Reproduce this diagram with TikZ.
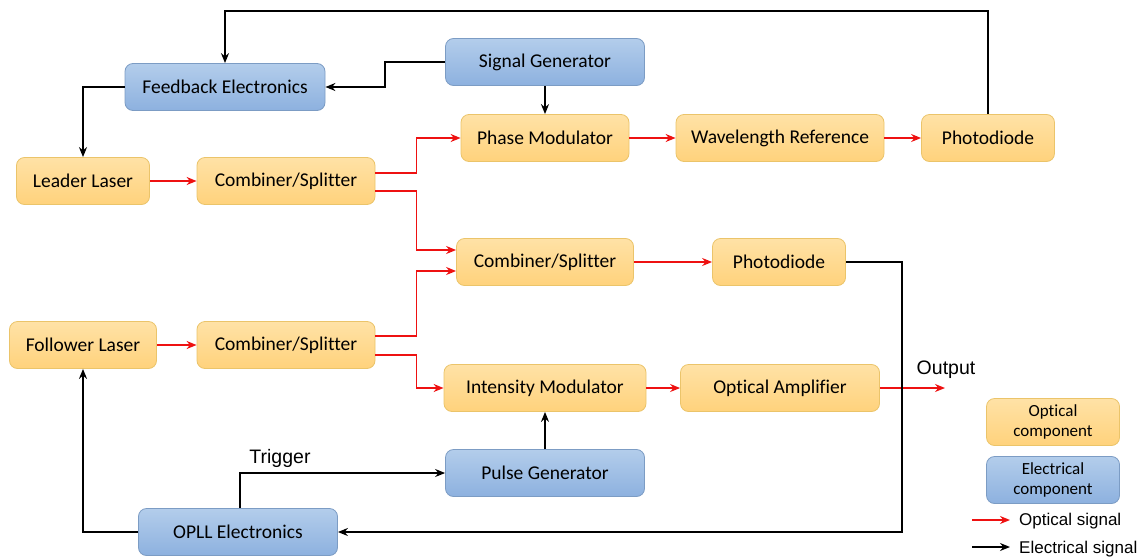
\documentclass[tikz,border=0pt]{standalone}
\usepackage{fontspec}
\setmainfont{Carlito}[Ligatures=NoCommon]
\newfontfamily\arialf{Liberation Sans}
\usetikzlibrary{arrows.meta,calc}
\definecolor{optTop}{HTML}{FFE2A6}
\definecolor{optBot}{HTML}{FFD27C}
\definecolor{optBd}{HTML}{EBC46A}
\definecolor{eleTop}{HTML}{B3CDEB}
\definecolor{eleBot}{HTML}{8DB1DF}
\definecolor{eleBd}{HTML}{7C9CC4}
\definecolor{sigred}{HTML}{EE1111}
\tikzset{
  box/.style={rounded corners=8pt, line width=0.8pt, minimum height=47pt, font=\fontsize{19.5}{22}\selectfont, inner sep=2pt},
  opt/.style={box, draw=optBd, top color=optTop, bottom color=optBot},
  ele/.style={box, draw=eleBd, top color=eleTop, bottom color=eleBot},
  oarr/.style={draw=sigred, line width=1.4pt, -{Stealth[length=10pt,width=8pt]}},
  earr/.style={draw=black, line width=1.4pt, -{Stealth[length=10pt,width=8pt]}},
  lbl/.style={font=\arialf\fontsize{19.5}{22}\selectfont, inner sep=1pt},
  leg/.style={font=\fontsize{17}{20}\selectfont, align=center},
  legl/.style={font=\arialf\fontsize{17}{20}\selectfont, inner sep=1pt, anchor=west},
}
\begin{document}
\begin{tikzpicture}[x=1pt,y=-1pt]
\useasboundingbox (0,0) rectangle (1143,557);
% nodes
\node[ele, minimum width=200pt] (fb) at (225,87) {Feedback Electronics};
\node[ele, minimum width=199pt] (sg) at (545,62) {Signal Generator};
\node[opt, minimum width=133pt] (leader) at (83,181) {Leader Laser};
\node[opt, minimum width=178pt] (cs1) at (286,181) {Combiner/Splitter};
\node[opt, minimum width=168pt] (pm) at (545,138) {Phase Modulator};
\node[opt, minimum width=208pt] (wr) at (780,138) {Wavelength Reference};
\node[opt, minimum width=133pt] (pd1) at (988,138) {Photodiode};
\node[opt, minimum width=177pt] (cs2) at (545,262) {Combiner/Splitter};
\node[opt, minimum width=133pt] (pd2) at (779,262) {Photodiode};
\node[opt, minimum width=147pt] (fl) at (83,345) {Follower Laser};
\node[opt, minimum width=178pt] (cs3) at (286,345) {Combiner/Splitter};
\node[opt, minimum width=202pt] (im) at (545,388) {Intensity Modulator};
\node[opt, minimum width=199pt] (oa) at (780,388) {Optical Amplifier};
\node[ele, minimum width=199pt] (pg) at (545,473) {Pulse Generator};
\node[ele, minimum width=199pt] (opll) at (238,532) {OPLL Electronics};
% legend
\node[opt, minimum width=133pt, leg] (lo) at (1053,422) {Optical\\component};
\node[ele, minimum width=133pt, leg] (le) at (1053,480) {Electrical\\component};
\coordinate (lr1) at (972,520); \coordinate (lr2) at (1010,520);
\coordinate (lb1) at (972,547); \coordinate (lb2) at (1010,547);
\draw[oarr] (lr1) -- (lr2);
\draw[earr] (lb1) -- (lb2);
\node[legl] (los) at (1018,521) {Optical signal};
\node[legl] (les) at (1018,549) {Electrical signal};
% helper coordinates
\coordinate (top) at (0,11);
\coordinate (rx) at (902,0);
\coordinate (out) at (945,388);
% optical connectors
\draw[oarr] (leader) -- (cs1);
\draw[oarr] ([yshift=8pt]cs1.east) -- ++(41pt,0) |- (pm.west);
\draw[oarr] ([yshift=-10pt]cs1.east) -- ++(41pt,0) |- ([yshift=12pt]cs2.west);
\draw[oarr] (pm) -- (wr);
\draw[oarr] (wr) -- (pd1);
\draw[oarr] (fl) -- (cs3);
\draw[oarr] ([yshift=9pt]cs3.east) -- ++(41pt,0) |- ([yshift=-9pt]cs2.west);
\draw[oarr] ([yshift=-10pt]cs3.east) -- ++(41pt,0) |- (im.west);
\draw[oarr] (cs2) -- (pd2);
\draw[oarr] (im) -- (oa);
\draw[oarr] (oa.east) -- (out);
\node[lbl, anchor=south] (outl) at (946,380) {Output};
% electrical connectors
\draw[earr] (pd1.north) -- (pd1.north |- top) -| (fb.north);
\draw[earr] (sg.west) -- ++(-60pt,0) |- (fb.east);
\draw[earr] (sg) -- (pm);
\draw[earr] (fb.west) -| (leader.north);
\draw[earr] (pd2.east) -- (rx |- pd2.east) -- (rx |- opll.east) -- (opll.east);
\draw[earr] (pg) -- (im);
\draw[earr] ([xshift=2pt]opll.north) |- (pg.west);
\node[lbl, anchor=south] (trig) at (280,469) {Trigger};
\draw[earr] (opll.west) -| (fl.south);
\end{tikzpicture}
\end{document}
